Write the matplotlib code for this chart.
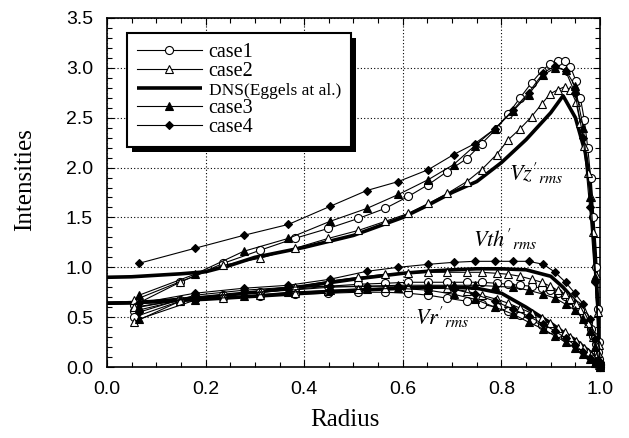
import matplotlib
matplotlib.use('Agg')
import matplotlib.pyplot as plt
from matplotlib.patches import Rectangle
from matplotlib.transforms import IdentityTransform
from matplotlib.ticker import MultipleLocator

plt.rcParams['font.family'] = 'serif'
plt.rcParams['font.serif'] = ['Liberation Serif', 'DejaVu Serif']
plt.rcParams['mathtext.fontset'] = 'stix'

# radial positions of the computed points (cases 1, 2 and cases 3, 4)
r_a = [0.055, 0.148, 0.236, 0.31, 0.381, 0.449, 0.51, 0.564, 0.611, 0.652,
       0.69, 0.73, 0.76, 0.79, 0.814, 0.838, 0.861, 0.882, 0.899, 0.914,
       0.928, 0.94, 0.951, 0.96, 0.968, 0.975, 0.981, 0.986, 0.991, 0.995,
       0.998, 1.0]
r_b = [0.065, 0.178, 0.277, 0.368, 0.452, 0.527, 0.591, 0.652, 0.703, 0.746,
       0.787, 0.824, 0.855, 0.885, 0.909, 0.93, 0.949, 0.966, 0.979, 0.99,
       1.0]

case1_vz = [0.62, 0.85, 1.04, 1.17, 1.29, 1.39, 1.49, 1.59, 1.71, 1.83,
            1.96, 2.09, 2.24, 2.39, 2.54, 2.70, 2.85, 2.97, 3.04, 3.07,
            3.07, 3.01, 2.87, 2.70, 2.48, 2.20, 1.90, 1.50, 1.00, 0.58,
            0.25, 0.03]
case1_vth = [0.56, 0.67, 0.72, 0.75, 0.78, 0.81, 0.83, 0.84, 0.85, 0.85,
             0.85, 0.85, 0.85, 0.84, 0.83, 0.82, 0.81, 0.79, 0.77, 0.74,
             0.71, 0.67, 0.62, 0.57, 0.51, 0.45, 0.38, 0.31, 0.23, 0.15,
             0.08, 0.02]
case1_vr = [0.50, 0.66, 0.69, 0.71, 0.73, 0.74, 0.75, 0.75, 0.74, 0.72,
            0.69, 0.66, 0.63, 0.60, 0.56, 0.52, 0.47, 0.42, 0.38, 0.34,
            0.30, 0.26, 0.22, 0.19, 0.16, 0.13, 0.10, 0.08, 0.05, 0.03,
            0.02, 0.0]

case2_vz = [0.67, 0.855, 1.02, 1.09, 1.19, 1.29, 1.37, 1.46, 1.54, 1.64,
            1.74, 1.86, 1.98, 2.13, 2.28, 2.39, 2.51, 2.64, 2.74, 2.78,
            2.81, 2.78, 2.66, 2.45, 2.22, 1.95, 1.70, 1.35, 0.92, 0.55,
            0.22, 0.03]
case2_vth = [0.60, 0.67, 0.72, 0.75, 0.80, 0.86, 0.90, 0.93, 0.94, 0.95,
             0.95, 0.95, 0.95, 0.94, 0.93, 0.91, 0.88, 0.85, 0.81, 0.77,
             0.73, 0.68, 0.63, 0.57, 0.51, 0.44, 0.37, 0.30, 0.22, 0.14,
             0.07, 0.02]
case2_vr = [0.45, 0.66, 0.69, 0.72, 0.74, 0.76, 0.78, 0.79, 0.80, 0.80,
            0.79, 0.76, 0.72, 0.68, 0.64, 0.59, 0.54, 0.49, 0.44, 0.39,
            0.35, 0.30, 0.26, 0.22, 0.19, 0.15, 0.12, 0.09, 0.06, 0.04,
            0.02, 0.0]

case3_vz = [0.72, 0.93, 1.16, 1.29, 1.46, 1.59, 1.73, 1.88, 2.03, 2.22,
            2.39, 2.57, 2.73, 2.93, 3.00, 2.98, 2.82, 2.40, 1.70, 0.90, 0.05]
case3_vth = [0.60, 0.70, 0.74, 0.77, 0.80, 0.81, 0.82, 0.82, 0.82, 0.82,
             0.81, 0.80, 0.77, 0.73, 0.69, 0.63, 0.57, 0.48, 0.36, 0.20, 0.02]
case3_vr = [0.48, 0.67, 0.71, 0.75, 0.77, 0.78, 0.79, 0.77, 0.73, 0.68,
            0.60, 0.53, 0.45, 0.38, 0.31, 0.25, 0.19, 0.13, 0.08, 0.04, 0.0]

case4_vz = [1.04, 1.19, 1.32, 1.43, 1.61, 1.77, 1.86, 1.98, 2.13, 2.24,
            2.39, 2.58, 2.75, 2.95, 3.02, 2.97, 2.75, 2.30, 1.60, 0.85, 0.05]
case4_vth = [0.64, 0.74, 0.79, 0.82, 0.88, 0.96, 1.00, 1.03, 1.05, 1.06,
             1.06, 1.06, 1.06, 1.03, 0.95, 0.85, 0.74, 0.63, 0.48, 0.28, 0.02]
case4_vr = [0.55, 0.72, 0.77, 0.80, 0.81, 0.81, 0.81, 0.80, 0.78, 0.73,
            0.66, 0.58, 0.51, 0.43, 0.36, 0.29, 0.22, 0.15, 0.09, 0.05, 0.0]

# DNS (Eggels et al.)
r_dns = [0.0, 0.05, 0.1, 0.15, 0.2, 0.25, 0.3, 0.35, 0.4, 0.45, 0.5, 0.55,
         0.6, 0.65, 0.7, 0.75, 0.8, 0.85, 0.9, 0.925, 0.95, 0.97, 0.98,
         0.99, 0.995, 1.0]
dns_vz = [0.90, 0.905, 0.92, 0.935, 0.955, 1.02, 1.10, 1.15, 1.20, 1.26,
          1.32, 1.41, 1.50, 1.62, 1.75, 1.86, 2.05, 2.28, 2.55, 2.72, 2.50,
          2.15, 1.85, 1.15, 0.65, 0.0]
dns_vth = [0.64, 0.645, 0.66, 0.68, 0.70, 0.725, 0.75, 0.78, 0.81, 0.845,
           0.88, 0.91, 0.94, 0.96, 0.975, 0.985, 0.985, 0.975, 0.91, 0.80,
           0.66, 0.52, 0.44, 0.30, 0.20, 0.0]
dns_vr = [0.64, 0.645, 0.655, 0.67, 0.68, 0.695, 0.71, 0.725, 0.74, 0.755,
          0.77, 0.78, 0.79, 0.80, 0.80, 0.79, 0.74, 0.60, 0.44, 0.35, 0.27,
          0.19, 0.15, 0.09, 0.05, 0.0]

labels = ['case1', 'case2', 'DNS(Eggels at al.)', 'case3', 'case4']

fig = plt.figure(figsize=(6.29, 4.38), dpi=100)
ax = fig.add_axes([0.170, 0.162, 0.784, 0.797])

styles = {
    'case1': dict(marker='o', mfc='white', ms=5.8),
    'case2': dict(marker='^', mfc='white', ms=6.2),
    'case3': dict(marker='^', mfc='black', ms=6.2),
    'case4': dict(marker='D', mfc='black', ms=4.2),
}
series = [
    ('case1', r_a, [case1_vz, case1_vth, case1_vr]),
    ('case2', r_a, [case2_vz, case2_vth, case2_vr]),
    ('case3', r_b, [case3_vz, case3_vth, case3_vr]),
    ('case4', r_b, [case4_vz, case4_vth, case4_vr]),
]

handles = {}
for yy in [dns_vz, dns_vth, dns_vr]:
    h, = ax.plot(r_dns, yy, '-', color='k', lw=2.6, zorder=2,
                 solid_capstyle='butt')
handles['DNS(Eggels at al.)'] = h

for name, rr, curves in series:
    for yy in curves:
        h, = ax.plot(rr, yy, '-', color='k', lw=0.8, mec='k', mew=0.8,
                     zorder=3, clip_on=False, **styles[name])
    handles[name] = h

ax.set_xlim(0.0, 1.0)
ax.set_ylim(0.0, 3.5)
ax.xaxis.set_major_locator(MultipleLocator(0.2))
ax.xaxis.set_minor_locator(MultipleLocator(0.05))
ax.yaxis.set_major_locator(MultipleLocator(0.5))
ax.yaxis.set_minor_locator(MultipleLocator(0.1))
ax.xaxis.set_major_formatter(plt.FuncFormatter(lambda v, p: '%.1f' % v))
ax.yaxis.set_major_formatter(plt.FuncFormatter(lambda v, p: '%.1f' % v))
ax.tick_params(which='both', direction='in', top=True, right=True,
               width=0.8, labelsize=14, labelfontfamily='Liberation Sans')
ax.tick_params(which='major', length=5, pad=10)
ax.tick_params(which='minor', length=3.5)
for sp in ax.spines.values():
    sp.set_linewidth(1.2)

ax.set_axisbelow(True)
ax.grid(True, which='major', color='k', lw=0.8, linestyle=(0, (1, 2)))

ax.set_xlabel('Radius', fontsize=18)
ax.set_ylabel('Intensities', fontsize=18)
ax.xaxis.set_label_coords(0.483, -0.152)
ax.yaxis.set_label_coords(-0.166, 0.536)
ax.xaxis.label.set_va('center')
ax.yaxis.label.set_va('center')

ax.text(0.815, 1.87, r"$Vz'_{rms}$", fontsize=16)
ax.text(0.742, 1.21, r"$Vth'_{rms}$", fontsize=16)
ax.text(0.625, 0.42, r"$Vr'_{rms}$", fontsize=16)

leg = ax.legend([handles[k] for k in labels], labels, loc='upper left',
                bbox_to_anchor=(0.041, 0.958), borderaxespad=0,
                fontsize=14.5, frameon=True, fancybox=False, framealpha=1,
                edgecolor='k', numpoints=1, handlelength=3.2,
                handletextpad=0.35, labelspacing=0.0, borderpad=0.5)
leg.get_frame().set_linewidth(1.5)
leg.get_texts()[2].set_fontsize(12.5)
leg.set_zorder(6)

# drop shadow of the legend box
fig.canvas.draw()
bb = leg.get_frame().get_window_extent()
shadow = Rectangle((bb.x0 + 5, bb.y0 - 5), bb.width, bb.height,
                   transform=IdentityTransform(), facecolor='k',
                   edgecolor='none', zorder=5.5, clip_on=False)
ax.add_artist(shadow)

fig.savefig('out.png', dpi=100)
